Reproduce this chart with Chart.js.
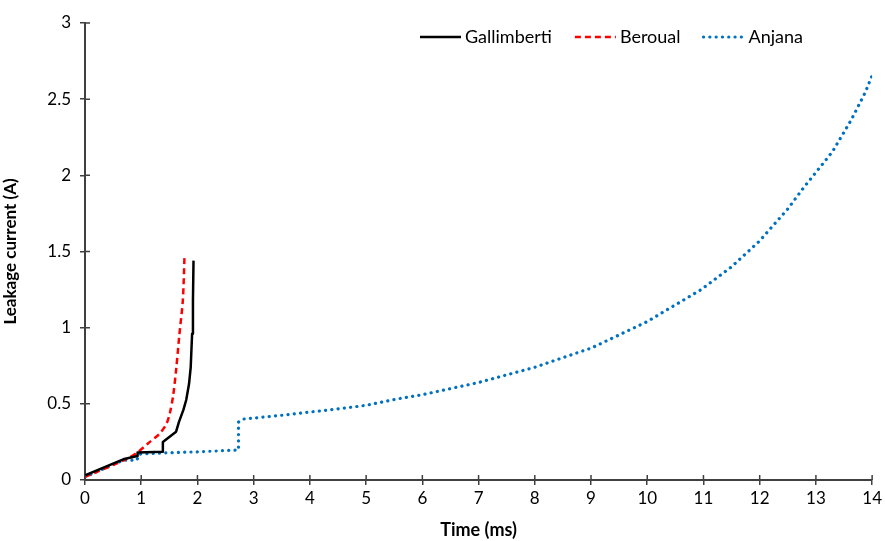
<!DOCTYPE html>
<html>
<head>
<meta charset="utf-8">
<script src="https://cdn.jsdelivr.net/npm/chart.js@4.4.1/dist/chart.umd.min.js"></script>
<style>
  html, body { margin: 0; padding: 0; background: #fff; }
  #wrap { width: 885px; height: 541px; }
</style>
</head>
<body>
<div id="wrap"><canvas id="leakageChart"></canvas></div>
<script>
// values
const seriesNames = ["Gallimberti", "Beroual", "Anjana"];

const gallimbertiTime = [0, 0.68, 0.93, 0.935, 1.38, 1.385, 1.62, 1.67, 1.75, 1.80, 1.85, 1.88, 1.905, 1.92, 1.93];
const gallimbertiCurrent = [0.03, 0.136, 0.157, 0.18, 0.186, 0.25, 0.317, 0.38, 0.46, 0.525, 0.63, 0.74, 0.96, 1.18, 1.44];

const beroualTime = [0, 0.75, 0.945, 1.12, 1.33, 1.45, 1.51, 1.57, 1.625, 1.68, 1.74, 1.77];
const beroualCurrent = [0.02, 0.14, 0.185, 0.24, 0.306, 0.37, 0.44, 0.56, 0.74, 0.96, 1.18, 1.47];

const anjanaTime = [0, 0.68, 0.92, 0.97, 1.4, 2.0, 2.73, 2.73, 2.82, 3.1, 3.5, 4.34, 5, 5.52, 6, 6.7, 7, 7.77, 8, 8.89, 9, 10, 10.5, 10.96, 11.5, 12, 12.5, 12.79, 13.29, 13.63, 13.88, 14];
const anjanaCurrent = [0.02, 0.13, 0.13, 0.17, 0.178, 0.185, 0.197, 0.38, 0.40, 0.41, 0.425, 0.46, 0.49, 0.53, 0.56, 0.616, 0.64, 0.717, 0.74, 0.852, 0.865, 1.04, 1.15, 1.25, 1.40, 1.57, 1.78, 1.923, 2.153, 2.365, 2.546, 2.656];

const xTicks = [0, 14, 1];      // min, max, step
const yTicks = [0, 3, 0.5];

const FONT = "Lato, 'Open Sans', sans-serif";
const AXIS_COLOR = "#404040";

const toPoints = (xs, ys) => xs.map((x, i) => ({ x: x, y: ys[i] }));

// little tick marks on the inner side of the axes, like the original
const innerTicks = {
  id: "innerTicks",
  afterDraw(chart) {
    const { ctx, chartArea, scales } = chart;
    ctx.save();
    ctx.strokeStyle = AXIS_COLOR;
    ctx.lineWidth = 1.5;
    ctx.beginPath();
    scales.x.ticks.forEach((t) => {
      const px = scales.x.getPixelForValue(t.value);
      ctx.moveTo(px, chartArea.bottom);
      ctx.lineTo(px, chartArea.bottom - 5);
    });
    scales.y.ticks.forEach((t) => {
      const py = scales.y.getPixelForValue(t.value);
      ctx.moveTo(chartArea.left, py);
      ctx.lineTo(chartArea.left + 5, py);
    });
    ctx.stroke();
    ctx.restore();
  },
};

// legend with line samples, drawn inside the plot at the top
const lineLegend = {
  id: "lineLegend",
  afterDraw(chart) {
    const ctx = chart.ctx;
    let x = 420;
    const y = 37;
    ctx.save();
    ctx.font = "18px " + FONT;
    ctx.textBaseline = "middle";
    chart.data.datasets.forEach((ds) => {
      ctx.strokeStyle = ds.borderColor;
      ctx.lineWidth = ds.borderWidth;
      ctx.lineCap = ds.borderCapStyle || "butt";
      ctx.setLineDash(ds.borderDash || []);
      ctx.beginPath();
      ctx.moveTo(x, y);
      ctx.lineTo(x + 41, y);
      ctx.stroke();
      ctx.setLineDash([]);
      ctx.fillStyle = "#000";
      ctx.fillText(ds.label, x + 45, y);
      x += 45 + ctx.measureText(ds.label).width + 23;
    });
    ctx.restore();
  },
};

const ctx = document.getElementById("leakageChart").getContext("2d");
new Chart(ctx, {
  type: "line",
  data: {
    datasets: [
      {
        label: seriesNames[0],
        data: toPoints(gallimbertiTime, gallimbertiCurrent),
        borderColor: "#000000",
        borderWidth: 2.5,
        borderJoinStyle: "round",
      },
      {
        label: seriesNames[1],
        data: toPoints(beroualTime, beroualCurrent),
        borderColor: "#FF0000",
        borderWidth: 2.5,
        borderDash: [6, 4],
        tension: 0.3,
      },
      {
        label: seriesNames[2],
        data: toPoints(anjanaTime, anjanaCurrent),
        borderColor: "#0070C0",
        borderWidth: 3.2,
        borderDash: [0.1, 6.2],
        borderCapStyle: "round",
      },
    ],
  },
  options: {
    responsive: true,
    maintainAspectRatio: false,
    animation: false,
    elements: {
      point: { radius: 0 },
      line: { tension: 0, fill: false },
    },
    layout: { padding: { top: 23, right: 10, left: 0, bottom: 0 } },
    plugins: {
      legend: { display: false },
      tooltip: { enabled: false },
    },
    scales: {
      x: {
        type: "linear",
        min: xTicks[0],
        max: xTicks[1],
        ticks: {
          stepSize: xTicks[2],
          color: "#000",
          font: { family: FONT, size: 17 },
          padding: 3,
          maxRotation: 0,
          callback: (v) => String(v),
        },
        grid: { drawOnChartArea: false, color: AXIS_COLOR, lineWidth: 1.5, tickLength: 5 },
        border: { color: AXIS_COLOR, width: 2 },
        title: {
          display: true,
          text: "Time (ms)",
          color: "#000",
          font: { family: FONT, size: 18, weight: "bold" },
          padding: { top: 2, bottom: 0 },
        },
        afterFit: (scale) => { scale.height = 61; },
      },
      y: {
        min: yTicks[0],
        max: yTicks[1],
        ticks: {
          stepSize: yTicks[2],
          color: "#000",
          font: { family: FONT, size: 17 },
          padding: 9,
          callback: (v) => String(v),
        },
        grid: { drawOnChartArea: false, color: AXIS_COLOR, lineWidth: 1.5, tickLength: 5 },
        border: { color: AXIS_COLOR, width: 2 },
        title: {
          display: true,
          text: "Leakage current (A)",
          color: "#000",
          font: { family: FONT, size: 17, weight: "bold" },
          padding: { top: 0, bottom: 4 },
        },
        afterFit: (scale) => { scale.width = 85; },
      },
    },
  },
  plugins: [innerTicks, lineLegend],
});
</script>
</body>
</html>
